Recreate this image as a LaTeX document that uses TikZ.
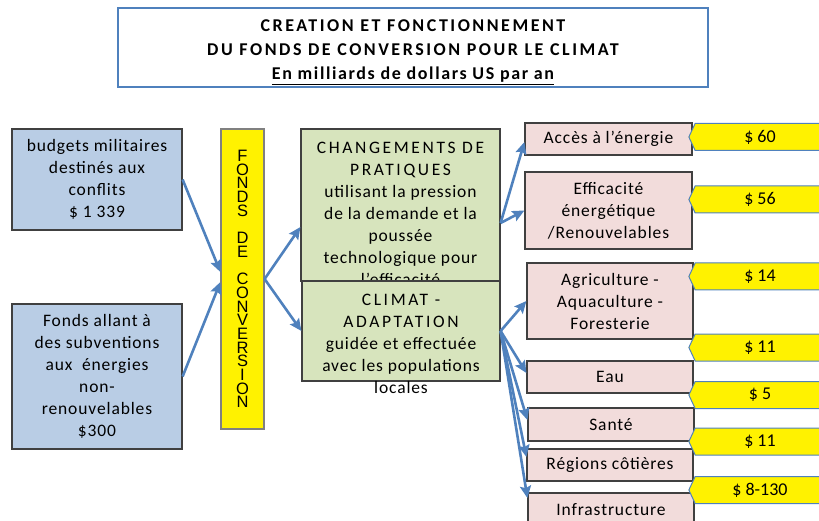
\documentclass[tikz,border=0pt]{standalone}
\usepackage{fontspec}
\setmainfont{Carlito}
\newfontfamily\fundfont{Liberation Sans}
\newcommand{\capsline}[1]{{\addfontfeatures{LetterSpace = 15}#1}}
\newcommand{\spacedline}[2]{{\addfontfeatures{LetterSpace = #1}#2}}
\usetikzlibrary{arrows.meta, shapes.symbols}

\definecolor{linkblue}{HTML}{4F81BD}
\definecolor{boxgray}{HTML}{404040}
\definecolor{budgetblue}{HTML}{B9CDE5}
\definecolor{practicegreen}{HTML}{D7E4BD}
\definecolor{sectorpink}{HTML}{F2DCDB}

\tikzset{
	bodyfont/.style = {font = \fontsize{17.5}{22}\selectfont\addfontfeatures{LetterSpace = 5}},
	box/.style = {draw = boxgray, line width = 1.2, align = center, inner sep = 0pt, bodyfont},
	budget/.style = {box, fill = budgetblue},
	practice/.style = {box, fill = practicegreen},
	sector/.style = {box, fill = sectorpink},
	boxtext/.style = {align = center, inner sep = 0pt, bodyfont},
	tag/.style = {signal, signal to = west, signal pointer angle = 130, draw = linkblue, line width = 1, fill = yellow, minimum width = 136, minimum height = 27, inner sep = 0pt, font = \fontsize{18}{22}\selectfont},
	link/.style = {->, draw = linkblue, line width = 2.6}
}

\begin{document}
\begin{tikzpicture}[x = 1pt, y = -1pt, > = {Stealth[length = 12, width = 11, inset = 2]}]

	\clip (0, 0) rectangle (819, 521);

	% Title

	\node [draw = linkblue, line width = 2.2, minimum width = 590, minimum height = 79] (title) at (413, 47.5) {};
	\node [align = center, inner sep = 0pt, font = \fontsize{18}{24}\selectfont\bfseries] (titletext) at (413, 52)
		{\spacedline{14}{CREATION ET FONCTIONNEMENT}\\\spacedline{14}{DU FONDS DE CONVERSION POUR LE CLIMAT}\\\spacedline{9}{\underline{En milliards de dollars US par an}}};

	% Sources and fund

	\node [budget, minimum width = 170, minimum height = 101] (military) at (97, 179.5)
		{budgets militaires\\destinés aux\\conflits\\\$ 1 339};
	\node [budget, minimum width = 170, minimum height = 145] (subsidies) at (97, 376.5)
		{Fonds allant à\\des subventions\\aux~ énergies\\non-\\renouvelables\\\$300};
	\node [draw = gray, line width = 1.2, fill = yellow, minimum width = 43, minimum height = 300, align = center, inner sep = 0pt, font = \fundfont\fontsize{16.5}{13.67}\selectfont] (fund) at (242.5, 279)
		{F\\O\\N\\D\\S\\~\\D\\E\\~\\C\\O\\N\\V\\E\\R\\S\\I\\O\\N};

	% Uses of the fund

	\node [practice, minimum width = 199, minimum height = 152] (practices) at (400.5, 205) {};
	\node [boxtext, anchor = north] (practicestext) at (400.5, 142)
		{\capsline{CHANGEMENTS DE}\\\capsline{PRATIQUES}\\utilisant la pression\\de la demande et la\\poussée\\technologique pour\\l’efficacité};
	\node [practice, minimum width = 198, minimum height = 100] (adaptation) at (401, 331) {};
	\node [boxtext, anchor = north] (adaptationtext) at (401, 294)
		{\capsline{CLIMAT -}\\\capsline{ADAPTATION}\\guidée et effectuée\\avec les populations\\locales};

	% Sectors

	\node [sector, minimum width = 167, minimum height = 32] (access) at (608.5, 139) {Accès à l’énergie};
	\node [sector, minimum width = 167, minimum height = 77] (efficiency) at (608.5, 210.5) {Efficacité\\énergétique\\/Renouvelables};
	\node [sector, minimum width = 166, minimum height = 76] (farming) at (610, 301) {Agriculture -\\Aquaculture -\\Foresterie};
	\node [sector, minimum width = 166, minimum height = 32] (water) at (610, 377) {Eau};
	\node [sector, minimum width = 166, minimum height = 33] (health) at (611, 424.5) {Santé};
	\node [sector, minimum width = 166, minimum height = 32] (coast) at (610, 465) {Régions côtières};
	\node [sector, minimum width = 166, minimum height = 34] (infrastructure) at (611, 510) {Infrastructure};

	% Amounts

	\foreach \y/\amount [count = \i] in {137/60, 199.5/56, 276.5/14, 347.5/11, 395/5, 441.5/11, 490/8-130}
		\node [tag] (amount\i) at (760, \y) {\$ \amount};

	% Arrows

	\draw [link] (military.east) -- ([yshift = 7]fund.west);
	\draw [link] (subsidies.east) -- ([yshift = -3]fund.west);
	\draw [link] (fund.east) -- ([yshift = -22]practices.west);
	\draw [link] (fund.east) -- (adaptation.west);
	\draw [link] ([yshift = -18]practices.east) -- ([yshift = -3]access.west);
	\draw [link] ([yshift = -18]practices.east) -- (efficiency.west);

	\foreach \target/\shift in {farming/0, water/4, health/4.5, coast/8, infrastructure/12}
		\draw [link] (adaptation.east) -- ([yshift = \shift]\target.west);

\end{tikzpicture}
\end{document}
